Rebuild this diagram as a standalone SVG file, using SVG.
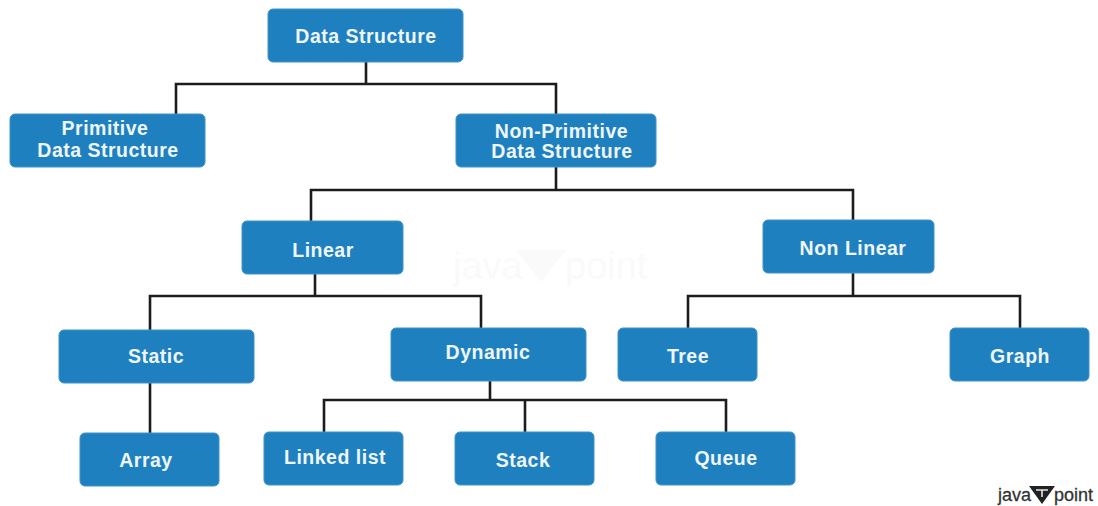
<svg xmlns="http://www.w3.org/2000/svg" width="1098" height="506" viewBox="0 0 1098 506">
<style>
.n{fill:#1f80bf;stroke:#3f93ca;stroke-width:1}
.t{font-family:"Liberation Sans",Arial,sans-serif;font-weight:700;font-size:19.5px;letter-spacing:.5px;fill:#eef6fb;text-anchor:middle}
.c{fill:none;stroke:#1c1c1c;stroke-width:2.6}
.l{font-family:"Liberation Sans",Arial,sans-serif;font-size:18px;fill:#333;stroke:#333;stroke-width:.3}
.w{font-family:"Liberation Sans",Arial,sans-serif;font-size:38px;fill:#fafafa}
</style>
<rect width="1098" height="506" fill="#fff"/>
<g id="watermark">
<text class="w" x="453" y="279">java</text>
<polygon points="516,250 566,250 541,282" fill="#fafafa"/>
<text class="w" x="565" y="279">point</text>
</g>
<g id="connectors">
<path class="c" d="M366 62V84M176 114V84H556V114"/>
<path class="c" d="M556 167V190M311 221V190H853V220"/>
<path class="c" d="M315 274V296M150 330V296H481V328"/>
<path class="c" d="M853 273V296M688 328V296H1020V328"/>
<path class="c" d="M150 383V433"/>
<path class="c" d="M490 381V400M324 432V400H726V432M525 400V432"/>
</g>
<g id="data-structure"><rect class="n" x="268" y="9" width="195" height="53" rx="5"/><text class="t" x="366" y="43">Data Structure</text></g>
<g id="primitive"><rect class="n" x="10" y="114" width="195" height="53" rx="5"/><text class="t" x="105" y="134.500">Primitive</text><text class="t" x="108" y="156.500">Data Structure</text></g>
<g id="non-primitive"><rect class="n" x="456" y="114" width="200" height="53" rx="5"/><text class="t" x="561.500" y="137.500">Non-Primitive</text><text class="t" x="562" y="157.500">Data Structure</text></g>
<g id="linear"><rect class="n" x="242" y="221" width="161" height="53" rx="5"/><text class="t" x="323" y="256.500">Linear</text></g>
<g id="non-linear"><rect class="n" x="763" y="220" width="171" height="53" rx="5"/><text class="t" x="853" y="254.500">Non Linear</text></g>
<g id="static"><rect class="n" x="59" y="330" width="195" height="53" rx="5"/><text class="t" x="156" y="362.500">Static</text></g>
<g id="dynamic"><rect class="n" x="391" y="328" width="195" height="53" rx="5"/><text class="t" x="488" y="358.500">Dynamic</text></g>
<g id="tree"><rect class="n" x="618" y="328" width="139" height="53" rx="5"/><text class="t" x="688" y="362.500">Tree</text></g>
<g id="graph"><rect class="n" x="950" y="328" width="139" height="53" rx="5"/><text class="t" x="1020" y="362.500">Graph</text></g>
<g id="array"><rect class="n" x="80" y="433" width="139" height="53" rx="5"/><text class="t" x="146" y="466.500">Array</text></g>
<g id="linked-list"><rect class="n" x="264" y="432" width="139" height="53" rx="5"/><text class="t" x="335" y="463.500">Linked list</text></g>
<g id="stack"><rect class="n" x="455" y="432" width="139" height="53" rx="5"/><text class="t" x="523" y="466.500">Stack</text></g>
<g id="queue"><rect class="n" x="656" y="432" width="139" height="53" rx="5"/><text class="t" x="726" y="464.500">Queue</text></g>
<g id="logo">
<text class="l" x="998" y="501">java</text>
<polygon points="1029,486 1055,486 1042,504" fill="#222"/>
<path d="M1036 490H1048M1042 490V497" stroke="#e8e8e8" stroke-width="1.600" fill="none"/>
<text class="l" x="1054" y="501">point</text>
</g>
</svg>
